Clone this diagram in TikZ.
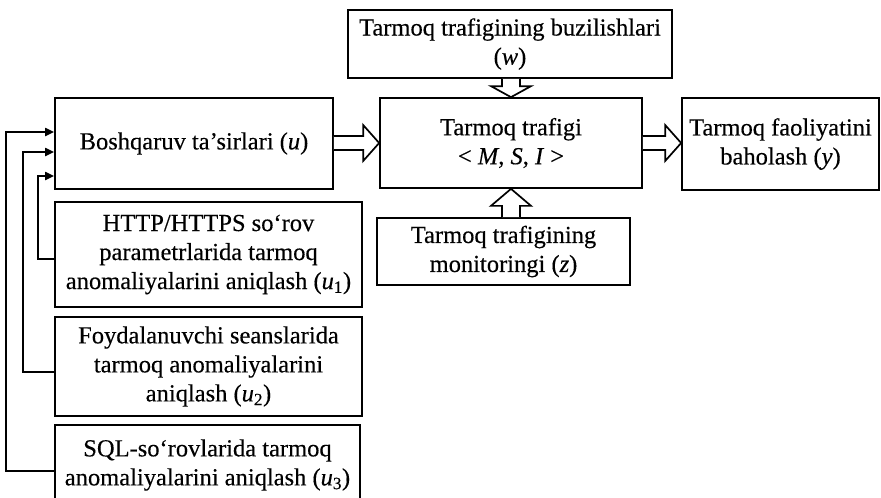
\documentclass[tikz,border=0pt]{standalone}
\usepackage{fontspec}
\setmainfont{Liberation Serif}[FakeBold=0.3]
\usetikzlibrary{calc,arrows.meta}

% italic variable with an upright index
\newcommand\var[1]{\textit{#1}}
\newcommand\vari[2]{\textit{#1}\textsubscript{#2}}

\begin{document}
\begin{tikzpicture}[x=1pt,y=-1pt,
  box/.style={draw,line width=1.7pt,align=center,inner sep=1pt,
    font=\fontsize{24.5}{29}\selectfont},
  hollow/.style={draw,line width=1.7pt,fill=white,line join=miter},
  fb/.style={line width=1.9pt,-{Triangle[length=9pt,width=8pt]}}]
\useasboundingbox (0,0) rectangle (881,498);

% blocks
\node[box,minimum width=278pt,minimum height=91pt] (bosh) at (194,143.5)
  {Boshqaruv ta’sirlari (\var{u})};
\node[box,minimum width=307pt,minimum height=105pt] (h1) at (208.5,254.5)
  {HTTP/HTTPS so‘rov\\parametrlarida tarmoq\\anomaliyalarini aniqlash (\vari{u}{1})};
\node[box,minimum width=307pt,minimum height=99pt] (h2) at (208.5,366.5)
  {Foydalanuvchi seanslarida\\tarmoq anomaliyalarini\\aniqlash (\vari{u}{2})};
\node[box,minimum width=305pt,minimum height=80pt] (h3) at (207.5,465)
  {SQL-so‘rovlarida tarmoq\\anomaliyalarini aniqlash (\vari{u}{3})};
\node[box,minimum width=324pt,minimum height=68pt] (w) at (510,44)
  {Tarmoq trafigining buzilishlari\\(\var{w})};
\node[box,minimum width=262pt,minimum height=90pt] (tc) at (511,143)
  {Tarmoq trafigi\\\textless\ \var{M}, \var{S}, \var{I} \textgreater};
\node[box,minimum width=253pt,minimum height=67pt] (mon) at (503.5,251.5)
  {Tarmoq trafigining\\monitoringi (\var{z})};
\node[box,minimum width=197pt,minimum height=92pt] (y) at (780.5,144)
  {Tarmoq faoliyatini\\baholash (\var{y})};

% hollow block arrows
\draw[hollow] ($(bosh.east |- tc.west)+(0,-7)$) -- ($(tc.west)+(-16,-7)$)
  -- ($(tc.west)+(-16,-18)$) -- (tc.west) -- ($(tc.west)+(-16,18)$)
  -- ($(tc.west)+(-16,7)$) -- ($(bosh.east |- tc.west)+(0,7)$);
\draw[hollow] ($(tc.east)+(0,-7)$) -- ($(y.west |- tc.east)+(-16,-7)$)
  -- ($(y.west |- tc.east)+(-16,-18)$) -- (y.west |- tc.east)
  -- ($(y.west |- tc.east)+(-16,18)$) -- ($(y.west |- tc.east)+(-16,7)$)
  -- ($(tc.east)+(0,7)$);
\draw[hollow] ($(w.south -| tc.north)+(-9,0)$) -- ($(tc.north)+(-9,-11)$)
  -- ($(tc.north)+(-20,-11)$) -- (tc.north) -- ($(tc.north)+(20,-11)$)
  -- ($(tc.north)+(9,-11)$) -- ($(w.south -| tc.north)+(9,0)$);
\draw[hollow] ($(mon.north -| tc.south)+(-9,0)$) -- ($(tc.south)+(-9,17)$)
  -- ($(tc.south)+(-20,17)$) -- (tc.south) -- ($(tc.south)+(20,17)$)
  -- ($(tc.south)+(9,17)$) -- ($(mon.north -| tc.south)+(9,0)$);

% feedback lines into the control block
\draw[fb] ($(h3.west)+(0,6)$) -- ++(-48,0) |- ($(bosh.west)+(0,-11.5)$);
\draw[fb] ($(h2.west)+(0,5.5)$) -- ++(-31,0) |- ($(bosh.west)+(0,8.5)$);
\draw[fb] ($(h1.west)+(0,4.5)$) -- ++(-16,0) |- ($(bosh.west)+(0,32.5)$);
\end{tikzpicture}
\end{document}
